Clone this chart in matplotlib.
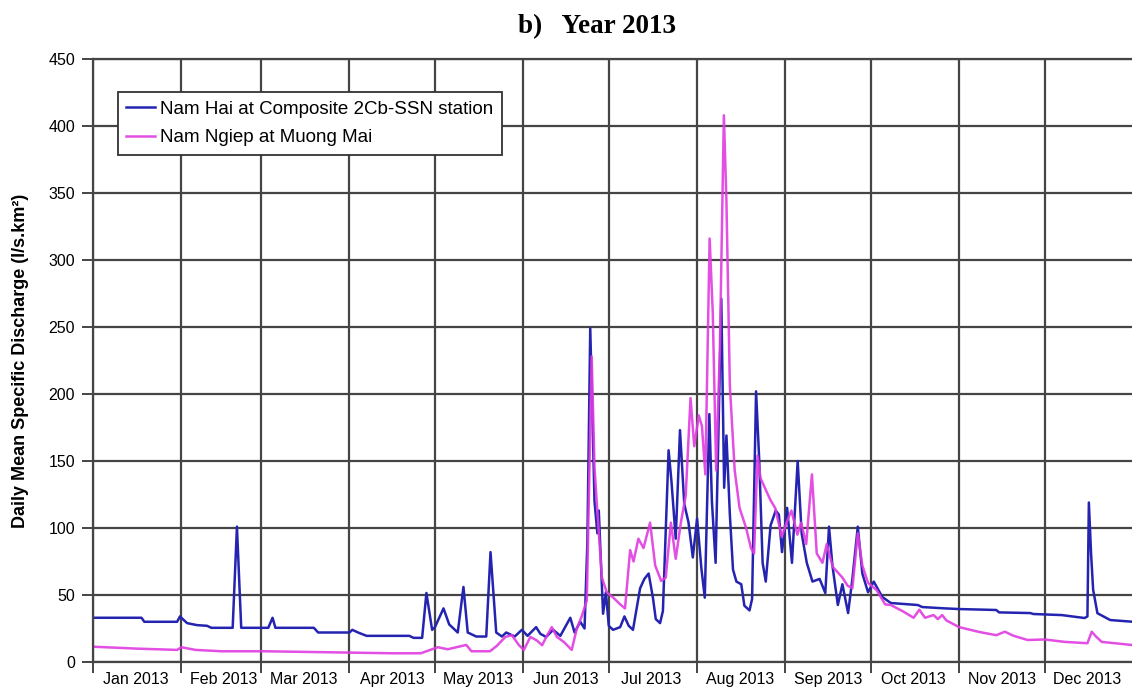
import matplotlib
matplotlib.use('Agg')
import matplotlib.pyplot as plt
import matplotlib.dates as mdates
import pandas as pd

# daily mean specific discharge 2013, l/s.km2 (day offset from 1 Jan)
nh_day = [0, 17, 18, 29.5, 30.5, 33, 36.5, 40, 41.5, 49, 50.5, 52, 61.5, 63, 64,
          77.5, 79, 90, 91, 93, 96, 111, 112.5, 115.5, 117, 119, 120, 123, 125, 128,
          130, 131.5, 134.5, 138, 139.5, 141.5, 143.5, 145, 148, 150.5, 152.5, 155.5,
          157, 159, 161.5, 164, 167.5, 169, 171, 172.5, 173.5, 174.5, 176, 177, 177.5,
          179, 180, 181, 182.5, 185, 186.5, 188, 189.5, 192, 193.5, 195, 196.5, 197.5,
          199, 200, 202, 203, 204.5, 206, 207.5, 209, 210.5, 212, 213.5, 214.7, 216.3,
          217.2, 218.5, 220.5, 221.5, 222.3, 223.5, 224.6, 225.8, 227.5, 228.6, 230.4,
          231.3, 232.7, 233.8, 235, 236.1, 237.8, 239.6, 240.7, 241.8, 243.6, 245.3,
          247.3, 248.7, 250.5, 252.5, 255, 257, 258.3, 259.5, 261.4, 263, 265, 266.5,
          268.4, 270, 272, 274, 277, 280, 289.5, 291, 299, 304, 317, 318, 329, 330,
          340, 348, 349, 349.5, 350.3, 351, 352.5, 357, 365]
nh_q = [33, 33, 30, 30, 34, 29, 27.5, 27, 25.5, 25.5, 101, 25.5, 25.5, 33, 25.5,
        25.5, 22, 22, 24, 22, 19.5, 19.5, 18, 18, 51.5, 24, 26, 40, 28, 22,
        56, 22, 19, 19, 82, 22, 19, 22, 19, 24, 19.5, 26,
        21, 18.7, 24, 19.5, 33, 22, 30, 25, 90, 249, 120, 96, 113,
        36, 52, 27, 24, 26, 34, 27, 24, 55, 62, 66, 48, 32,
        29, 38, 158, 135, 92, 173, 118, 104, 78, 107, 70, 48, 185,
        120, 74, 271, 130, 169, 110, 69, 60, 58, 42, 38.5,
        47, 202, 151, 74, 60, 102, 113, 110, 82, 115, 74,
        150, 96, 74, 60, 62, 51.5, 101, 72, 42.5, 58, 36.5, 62,
        101, 66, 52, 60, 48.5, 44, 42.5, 41, 40, 39.5, 38.8, 37, 36.5, 35.8,
        35, 32.8, 34, 119, 80, 54, 36.4, 31.3, 30]

nn_day = [0, 15, 29.5, 31, 36, 45, 60, 75, 90, 105, 115, 121, 124.5, 127.5, 131,
          132.8, 139.3, 141.7, 144.7, 147, 149.5, 151.2, 153.5, 155.8, 157.6, 159.4,
          161, 162.8, 165.2, 168, 169.8, 171.5, 173.3, 175, 176, 177, 178.6, 180.3,
          182.6, 185, 186.7, 188.5, 189.7, 191.4, 193.2, 195.5, 197.3, 199.4, 201,
          202.8, 204.5, 206.3, 208, 209.7, 211, 212.6, 213.7, 214.9, 216.4, 217.5,
          218.7, 220, 221.4, 222.3, 223.5, 225.2, 226.9, 229.2, 230.9, 232, 233.2,
          234.3, 236, 237.7, 239.4, 241.7, 243.4, 245.1, 247.2, 248.5, 250.3, 252.3,
          254, 256, 257.5, 259.6, 263, 264.8, 266.5, 268.4, 270, 272, 275, 278, 280,
          284.5, 288, 290, 292, 295, 296.5, 298, 299.5, 304, 311, 317, 320, 323, 328,
          334, 341, 349, 350.5, 352, 354, 365]
nn_q = [11.4, 10, 9, 11, 9, 8, 8, 7.5, 7, 6.5, 6.5, 11, 9.5, 11, 12.7,
        8, 8, 12, 18.7, 20, 12.5, 9, 18.7, 16, 12.5, 20,
        26, 18.7, 15, 9, 25, 34, 46, 228, 145, 112, 63, 52,
        48, 43, 40, 83.5, 75, 92, 85, 104, 72, 60.5, 63,
        104, 77, 104, 124, 197, 161, 184, 176, 140, 316, 261,
        143, 234, 408, 344, 206, 143, 115, 100, 85, 81, 154,
        137, 129, 121, 115, 93.5, 104, 113, 95, 104, 88, 140,
        81, 74, 88, 71, 63, 57, 55, 96, 72, 59, 53.7, 43, 42.5,
        37.5, 33, 39, 33, 35, 32, 35, 31, 26, 22.4, 20, 22.6, 19.6, 16.4,
        16.8, 15, 14, 22.6, 19, 15, 12.6]

start = pd.Timestamp('2013-01-01')
nh_t = start + pd.to_timedelta(nh_day, unit='D')
nn_t = start + pd.to_timedelta(nn_day, unit='D')

grid_c = '#454545'

fig = plt.figure(figsize=(11.32, 6.91), dpi=100)
ax = fig.add_axes([0.0822, 0.042, 0.9187, 0.8726])

ax.plot(nh_t, nh_q, color='#2424b0', lw=1.8, label='Nam Hai at Composite 2Cb-SSN station')
ax.plot(nn_t, nn_q, color='#e03ce0', lw=1.8, alpha=0.9, label='Nam Ngiep at Muong Mai')

ax.set_xlim(start, pd.Timestamp('2014-01-01'))
ax.set_ylim(0, 450)
ax.set_yticks(range(0, 451, 50))

# gridlines at month starts, labels centred in each month
ax.xaxis.set_major_locator(mdates.MonthLocator())
ax.xaxis.set_major_formatter(plt.NullFormatter())
ax.xaxis.set_minor_locator(mdates.MonthLocator(bymonthday=16))
ax.xaxis.set_minor_formatter(mdates.DateFormatter('%b %Y'))
ax.tick_params(axis='x', which='minor', length=0, pad=7)
ax.tick_params(axis='both', which='major', length=8, width=1.4, color=grid_c)
ax.tick_params(axis='y', which='major', pad=5)
for lab in ax.get_xticklabels(minor=True) + ax.get_yticklabels():
    lab.set_fontfamily('Liberation Sans')
    lab.set_fontsize(11.5)

ax.grid(True, which='major', color=grid_c, lw=1.6)
ax.set_axisbelow(True)
for s in ax.spines.values():
    s.set_color(grid_c)
    s.set_linewidth(1.6)

ax.set_ylabel('Daily Mean Specific Discharge (l/s.km²)', fontfamily='Liberation Sans',
              fontsize=13, fontweight='bold', labelpad=14)

leg = ax.legend(loc='upper left', bbox_to_anchor=(0.024, 0.945), fancybox=False,
                edgecolor='#333333', framealpha=1, prop={'family': 'Liberation Sans', 'size': 13.5},
                handlelength=1.5, handletextpad=0.3, borderpad=0.45, labelspacing=0.6,
                borderaxespad=0)
leg.get_frame().set_linewidth(1.3)

fig.text(0.527, 0.962, 'b)   Year 2013', ha='center', va='center',
         fontfamily='Liberation Serif', fontweight='bold', fontsize=19.5)

fig.savefig('out.png', dpi=100)
